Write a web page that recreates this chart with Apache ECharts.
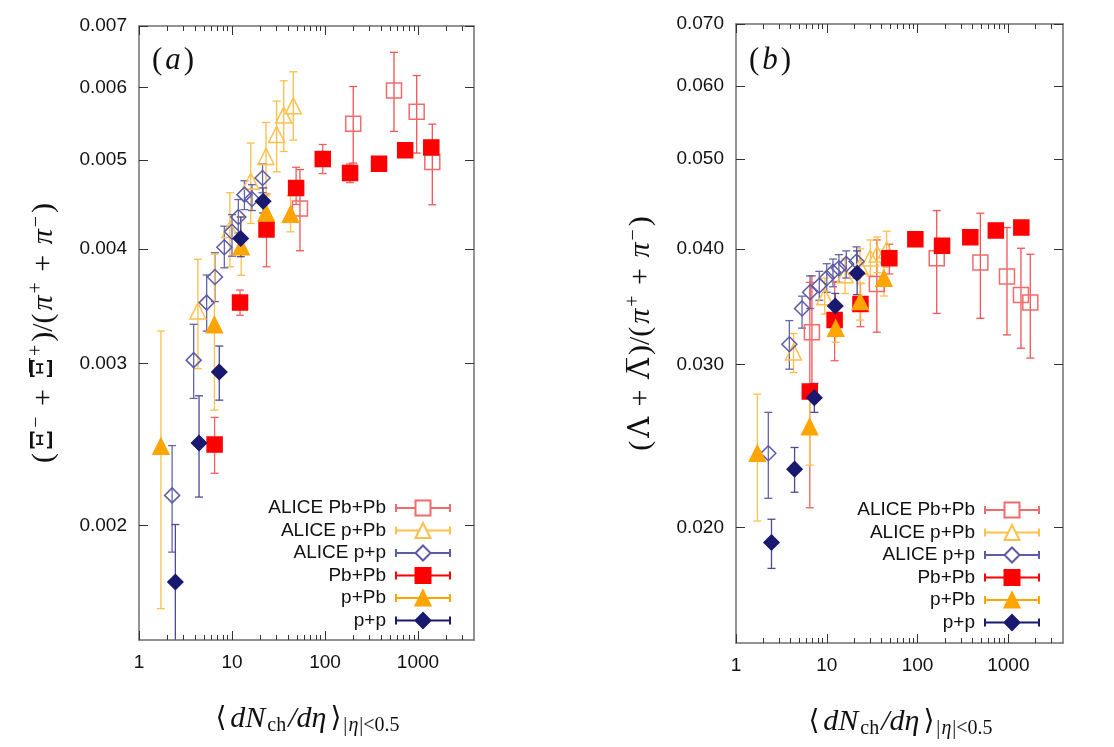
<!DOCTYPE html>
<html>
<head>
<meta charset="utf-8">
<script src="https://cdn.jsdelivr.net/npm/echarts@6/dist/echarts.min.js"></script>
<style>html,body{margin:0;padding:0;background:#fff}#c{width:1114px;height:747px}</style>
</head>
<body>
<div id="c"></div>
<script>
// ---------- tick values ----------
const xMajor = [1, 10, 100, 1000];
const xMinor = [2,3,4,5,6,7,8,9,20,30,40,50,60,70,80,90,200,300,400,500,600,700,800,900,2000,3000];
const yTicksXi = [0.002, 0.003, 0.004, 0.005, 0.006, 0.007];
const yTicksLambda = [0.020, 0.030, 0.040, 0.050, 0.060, 0.070];
const seriesNames = ['ALICE Pb+Pb', 'ALICE p+Pb', 'ALICE p+p', 'Pb+Pb', 'p+Pb', 'p+p'];

// ---------- x positions <dNch/deta> ----------
const xAlicePbPbXi = [53.8, 201, 552, 968, 1425];
const xAlicePbPbLambda = [6.86, 35.6, 162.6, 492, 966, 1377, 1745];
const xAlicePPb = [4.3, 9.5, 15.9, 23.2, 30.2, 36.0, 45.6];
const xAlicePP = [2.27, 3.87, 5.34, 6.55, 8.27, 10.0, 11.7, 13.6, 16.4, 21.3];
const xPbPb = [6.5, 12.2, 23.5, 48.9, 94.6, 186, 381, 728, 1390];
const xPPb = [1.72, 6.47, 12.55, 23.3, 42.6];
const xPP = [2.46, 4.42, 7.3, 12.4, 21.6];

// ---------- panel (a): (Xi- + Xibar+)/(pi+ + pi-) ----------
const yAlicePbPbXi  = [0.004428, 0.005478, 0.005955, 0.005644, 0.004976];
const loAlicePbPbXi = [0.003983, 0.004963, 0.005373, 0.005089, 0.004470];
const hiAlicePbPbXi = [0.004883, 0.006014, 0.006553, 0.006182, 0.005472];

const yAlicePPbXi  = [0.003424, 0.004202, 0.004743, 0.005047, 0.005333, 0.005598, 0.005729];
const loAlicePPbXi = [0.002963, 0.003826, 0.004265, 0.004571, 0.004855, 0.005110, 0.005257];
const hiAlicePPbXi = [0.003898, 0.004607, 0.005218, 0.005495, 0.005797, 0.006101, 0.006240];

const yAlicePPXi  = [0.002156, 0.003027, 0.003497, 0.003729, 0.004018, 0.004177, 0.004335, 0.004585, 0.004536, 0.004781];
const loAlicePPXi = [0.001870, 0.002750, 0.003256, 0.003506, 0.003816, 0.003929, 0.004166, 0.004416, 0.004406, 0.004607];
const hiAlicePPXi = [0.002443, 0.003312, 0.003748, 0.003963, 0.004236, 0.004361, 0.004529, 0.004748, 0.004701, 0.004952];

const yPbPbXi  = [0.002449, 0.003497, 0.004202, 0.004663, 0.005013, 0.004842, 0.004955, 0.005124, 0.005162];
const loPbPbXi = [0.002279, 0.003388, 0.003826, 0.004473, 0.004834, 0.004726, 0.004920, 0.005090, 0.005130];
const hiPbPbXi = [0.002622, 0.003609, 0.004594, 0.004911, 0.005200, 0.004952, 0.004990, 0.005160, 0.005195];

const yPPbXi  = [0.002439, 0.003308, 0.004022, 0.004379, 0.004365];
const loPPbXi = [0.001623, 0.002670, 0.003745, 0.004166, 0.004177];
const hiPPbXi = [0.003256, 0.003950, 0.004335, 0.004594, 0.004574];

const yPPXi  = [0.001735, 0.002459, 0.002939, 0.004107, 0.004509];
const loPPXi = [0.001470, 0.002147, 0.002738, 0.003924, 0.004379];
const hiPPXi = [0.002004, 0.002768, 0.003136, 0.004335, 0.004663];

// ---------- panel (b): (Lambda + Lambdabar)/(pi+ + pi-) ----------
const yAlicePbPbLa  = [0.03251, 0.03665, 0.03908, 0.03866, 0.03734, 0.03566, 0.03500];
const loAlicePbPbLa = [0.02830, 0.03251, 0.03406, 0.03365, 0.03229, 0.03124, 0.03048];
const hiAlicePbPbLa = [0.03740, 0.04090, 0.04400, 0.04371, 0.04218, 0.04006, 0.03947];

const yAlicePPbLa  = [0.03095, 0.0355, 0.0375, 0.0383, 0.0391, 0.0395, 0.0399];
const loAlicePPbLa = [0.0294, 0.0340, 0.0358, 0.0367, 0.0374, 0.0377, 0.0382];
const hiAlicePPbLa = [0.0324, 0.0372, 0.0390, 0.0400, 0.0409, 0.0412, 0.0418];

const yAlicePPLa  = [0.02405, 0.03155, 0.03449, 0.03591, 0.03651, 0.03721, 0.03777, 0.03812, 0.03853, 0.03876];
const loAlicePPLa = [0.02150, 0.02965, 0.03284, 0.03448, 0.0352, 0.0359, 0.0364, 0.0368, 0.0372, 0.0372];
const hiAlicePPLa = [0.02663, 0.03346, 0.03556, 0.03740, 0.03782, 0.03855, 0.0390, 0.03943, 0.0398, 0.04020];

const yPbPbLa  = [0.02804, 0.03351, 0.03488, 0.03908, 0.04097, 0.04030, 0.04118, 0.04188, 0.04218];
const loPbPbLa = [0.02100, 0.03028, 0.03296, 0.03758, 0.0406, 0.0398, 0.0409, 0.0416, 0.0419];
const hiPbPbLa = [0.03680, 0.03687, 0.0367, 0.04047, 0.0413, 0.0408, 0.0415, 0.0422, 0.0425];

const yPPbLa  = [0.02405, 0.02570, 0.03284, 0.03508, 0.03718];
const loPPbLa = [0.02032, 0.02335, 0.0317, 0.0335, 0.03557];
const hiPPbLa = [0.02786, 0.0280, 0.0340, 0.0367, 0.0386];

const yPPLa  = [0.01926, 0.02312, 0.02762, 0.03470, 0.03764];
const loPPLa = [0.01806, 0.02183, 0.02663, 0.0338, 0.0357];
const hiPPLa = [0.02041, 0.02440, 0.02862, 0.0358, 0.0398];

// ---------- styles ----------
const STYLE = {
  'ALICE Pb+Pb': {symbol: 'rect', size: 15, fill: 'rgba(0,0,0,0)', stroke: '#f26b6b', bar: '#f05555'},
  'ALICE p+Pb':  {symbol: 'triangle', size: 16, fill: 'rgba(0,0,0,0)', stroke: '#ffc04d', bar: '#ffbe4a'},
  'ALICE p+p':   {symbol: 'diamond', size: 15, fill: 'rgba(0,0,0,0)', stroke: '#5b5ba6', bar: '#6464aa'},
  'Pb+Pb':       {symbol: 'rect', size: 15, fill: '#ff0000', stroke: '#ff0000', bar: '#f06060'},
  'p+Pb':        {symbol: 'triangle', size: 16, fill: '#ffa500', stroke: '#ffa500', bar: '#ffc04d'},
  'p+p':         {symbol: 'diamond', size: 15, fill: '#191970', stroke: '#191970', bar: '#4b4b95'}
};
const ICON = {
  rect: 'M0,7.5 L19.5,7.5 M34.5,7.5 L54,7.5 M0,3.5 L0,11.5 M54,3.5 L54,11.5 M19.5,0 L34.5,0 L34.5,15 L19.5,15 Z',
  triangle: 'M0,7.5 L23.25,7.5 M30.75,7.5 L54,7.5 M0,3.5 L0,11.5 M54,3.5 L54,11.5 M19.5,15 L27,0 L34.5,15 Z',
  diamond: 'M0,7.5 L19.5,7.5 M34.5,7.5 L54,7.5 M0,3.5 L0,11.5 M54,3.5 L54,11.5 M27,0 L34.5,7.5 L27,15 L19.5,7.5 Z'
};

const panels = [
  {
    yMin: 0.0015, yMax: 0.007, yTicks: yTicksXi,
    sets: {
      'ALICE Pb+Pb': [xAlicePbPbXi, yAlicePbPbXi, loAlicePbPbXi, hiAlicePbPbXi],
      'ALICE p+Pb':  [xAlicePPb, yAlicePPbXi, loAlicePPbXi, hiAlicePPbXi],
      'ALICE p+p':   [xAlicePP, yAlicePPXi, loAlicePPXi, hiAlicePPXi],
      'Pb+Pb':       [xPbPb, yPbPbXi, loPbPbXi, hiPbPbXi],
      'p+Pb':        [xPPb, yPPbXi, loPPbXi, hiPPbXi],
      'p+p':         [xPP, yPPXi, loPPXi, hiPPXi]
    }
  },
  {
    yMin: 0.015, yMax: 0.07, yTicks: yTicksLambda,
    sets: {
      'ALICE Pb+Pb': [xAlicePbPbLambda, yAlicePbPbLa, loAlicePbPbLa, hiAlicePbPbLa],
      'ALICE p+Pb':  [xAlicePPb, yAlicePPbLa, loAlicePPbLa, hiAlicePPbLa],
      'ALICE p+p':   [xAlicePP, yAlicePPLa, loAlicePPLa, hiAlicePPLa],
      'Pb+Pb':       [xPbPb, yPbPbLa, loPbPbLa, hiPbPbLa],
      'p+Pb':        [xPPb, yPPbLa, loPPbLa, hiPPbLa],
      'p+p':         [xPP, yPPLa, loPPLa, hiPPLa]
    }
  }
];

const grids = [
  {left: 139, top: 26, width: 335, height: 614},
  {left: 736, top: 24, width: 327, height: 619}
];

const TXT = '#111';
const LINE = '#6f6f6f';
const FS = 30;
const richSerif = {
  p:  {fontSize: FS, fontFamily: 'Liberation Serif', fontWeight: 'normal', color: TXT, lineHeight: 34, padding: [0, 1, 0, 1]},
  g:  {fontSize: FS - 1, fontFamily: 'DejaVu Serif', fontWeight: 'normal', color: TXT, lineHeight: 34, padding: [0, 2, 0, 2]},
  i:  {fontSize: FS, fontFamily: 'Liberation Serif', fontStyle: 'italic', fontWeight: 'normal', color: TXT, lineHeight: 34, padding: [0, 2, 0, 2]},
  a:  {fontSize: FS - 2, fontFamily: 'DejaVu Sans', fontWeight: 'normal', color: TXT, lineHeight: 34, padding: [0, 2, 0, 2]},
  sp: {fontSize: 20, fontFamily: 'Liberation Serif', fontWeight: 'normal', color: TXT, verticalAlign: 'top', lineHeight: 13, padding: [0, 2, 0, 0]},
  s:  {fontSize: 20, fontFamily: 'Liberation Serif', fontWeight: 'normal', color: TXT, verticalAlign: 'bottom', lineHeight: 12},
  si: {fontSize: 20, fontFamily: 'Liberation Serif', fontStyle: 'italic', fontWeight: 'normal', color: TXT, verticalAlign: 'bottom', lineHeight: 12, padding: [0, 1, 0, 1]}
};
const xName = '{a|⟨}{i|dN}{s|ch}{i|/dη}{a|⟩}{s||}{si|η}{s||<0.5}';
const yNames = [
  '{p|(}{g|Ξ}{sp|−}{p| + }{g|Ξ\u0305}{sp|+}{p|)/(}{i|π}{sp|+}{p| + }{i|π}{sp|−}{p|)}',
  '{p|(}{g|Λ}{p| + }{g|Λ\u0305}{p|)/(}{i|π}{sp|+}{p| + }{i|π}{sp|−}{p|)}'
];

const xAxes = [], yAxes = [], series = [], legends = [], titles = [];
const tickLab = {fontFamily: 'Liberation Sans', fontSize: 19, color: TXT};

panels.forEach((pn, g) => {
  const base = {gridIndex: g, type: 'log', logBase: 10, min: 1, max: 4000, splitLine: {show: false}};
  xAxes.push(Object.assign({}, base, {
    position: 'bottom',
    axisLine: {show: true, lineStyle: {color: LINE, width: 1.5}},
    axisTick: {show: true, inside: true, length: 9, customValues: xMajor, lineStyle: {color: '#333'}},
    axisLabel: Object.assign({customValues: xMajor, margin: 13, formatter: v => String(Math.round(v))}, tickLab),
    name: xName, nameLocation: 'middle', nameGap: 62,
    nameTextStyle: {rich: richSerif, fontSize: FS, color: TXT}
  }));
  xAxes.push(Object.assign({}, base, {
    position: 'bottom', axisLine: {show: false},
    axisTick: {show: true, inside: true, length: 5, customValues: xMinor, lineStyle: {color: '#333'}},
    axisLabel: {show: false}
  }));
  xAxes.push(Object.assign({}, base, {
    position: 'top', axisLine: {show: true, lineStyle: {color: LINE, width: 1.5}},
    axisTick: {show: true, inside: true, length: 9, customValues: xMajor, lineStyle: {color: '#333'}},
    axisLabel: {show: false}
  }));
  xAxes.push(Object.assign({}, base, {
    position: 'top', axisLine: {show: false},
    axisTick: {show: true, inside: true, length: 5, customValues: xMinor, lineStyle: {color: '#333'}},
    axisLabel: {show: false}
  }));
  const ybase = {gridIndex: g, type: 'log', logBase: 10, min: pn.yMin, max: pn.yMax, splitLine: {show: false}};
  yAxes.push(Object.assign({}, ybase, {
    position: 'left',
    axisLine: {show: true, lineStyle: {color: LINE, width: 1.5}},
    axisTick: {show: true, inside: true, length: 9, customValues: pn.yTicks, lineStyle: {color: '#333'}},
    axisLabel: Object.assign({customValues: pn.yTicks, margin: 12, formatter: v => v.toFixed(3)}, tickLab),
    name: yNames[g], nameLocation: 'middle', nameRotate: 90, nameGap: 78,
    nameTextStyle: {rich: richSerif, fontSize: FS, color: TXT}
  }));
  yAxes.push(Object.assign({}, ybase, {
    position: 'right',
    axisLine: {show: true, lineStyle: {color: LINE, width: 1.5}},
    axisTick: {show: true, inside: true, length: 9, customValues: pn.yTicks, lineStyle: {color: '#333'}},
    axisLabel: {show: false}
  }));

  const xi = g * 4, yi = g * 2;
  // error bars first
  seriesNames.forEach(name => {
    const [xs, ys, lo, hi] = pn.sets[name];
    const st = STYLE[name];
    series.push({
      type: 'custom', xAxisIndex: xi, yAxisIndex: yi, clip: true, z: 2, silent: true,
      data: xs.map((x, i) => [x, ys[i], lo[i], hi[i]]),
      encode: {x: 0, y: [2, 3]},
      renderItem: (params, api) => {
        const x = api.value(0);
        const pHi = api.coord([x, api.value(3)]);
        const pLo = api.coord([x, api.value(2)]);
        const w = 4;
        const ls = {stroke: st.bar, lineWidth: 1.3};
        return {type: 'group', children: [
          {type: 'line', shape: {x1: pHi[0], y1: pHi[1], x2: pLo[0], y2: pLo[1]}, style: ls},
          {type: 'line', shape: {x1: pHi[0] - w, y1: pHi[1], x2: pHi[0] + w, y2: pHi[1]}, style: ls},
          {type: 'line', shape: {x1: pLo[0] - w, y1: pLo[1], x2: pLo[0] + w, y2: pLo[1]}, style: ls}
        ]};
      }
    });
  });
  seriesNames.forEach(name => {
    const [xs, ys] = pn.sets[name];
    const st = STYLE[name];
    series.push({
      type: 'scatter', name: name, xAxisIndex: xi, yAxisIndex: yi, z: 3,
      symbol: st.symbol, symbolSize: st.size,
      itemStyle: {color: st.fill, borderColor: st.stroke, borderWidth: 1.5, opacity: 1},
      emphasis: {disabled: true},
      data: xs.map((x, i) => [x, ys[i]])
    });
  });

  const gr = grids[g];
  legends.push({
    orient: 'vertical', align: 'right', selectedMode: false, padding: 0,
    right: 1114 - (gr.left + gr.width) + 23, top: g === 0 ? 498.5 : 500.5,
    itemWidth: 54, itemHeight: 15, itemGap: 3.5,
    textStyle: {fontFamily: 'Liberation Sans', fontSize: 19, color: TXT, padding: [0, 5, 0, 0]},
    data: seriesNames.map(n => ({name: n, icon: 'path://' + ICON[STYLE[n].symbol]}))
  });
  titles.push({
    text: '{p|(}{i|' + (g === 0 ? 'a' : 'b') + '}{p|)}',
    left: gr.left + 13, top: 45, padding: 0,
    textStyle: {fontWeight: 'normal', rich: {
      p: {fontSize: 31, fontFamily: 'Liberation Serif', fontWeight: 'normal', color: TXT},
      i: {fontSize: 31, fontFamily: 'Liberation Serif', fontStyle: 'italic', fontWeight: 'normal', color: TXT, padding: [0, 3, 0, 3]}
    }}
  });
});

const chart = echarts.init(document.getElementById('c'), null, {renderer: 'canvas'});
chart.setOption({
  animation: false,
  backgroundColor: '#fff',
  title: titles,
  grid: grids,
  xAxis: xAxes,
  yAxis: yAxes,
  legend: legends,
  series: series
});
</script>
</body>
</html>
